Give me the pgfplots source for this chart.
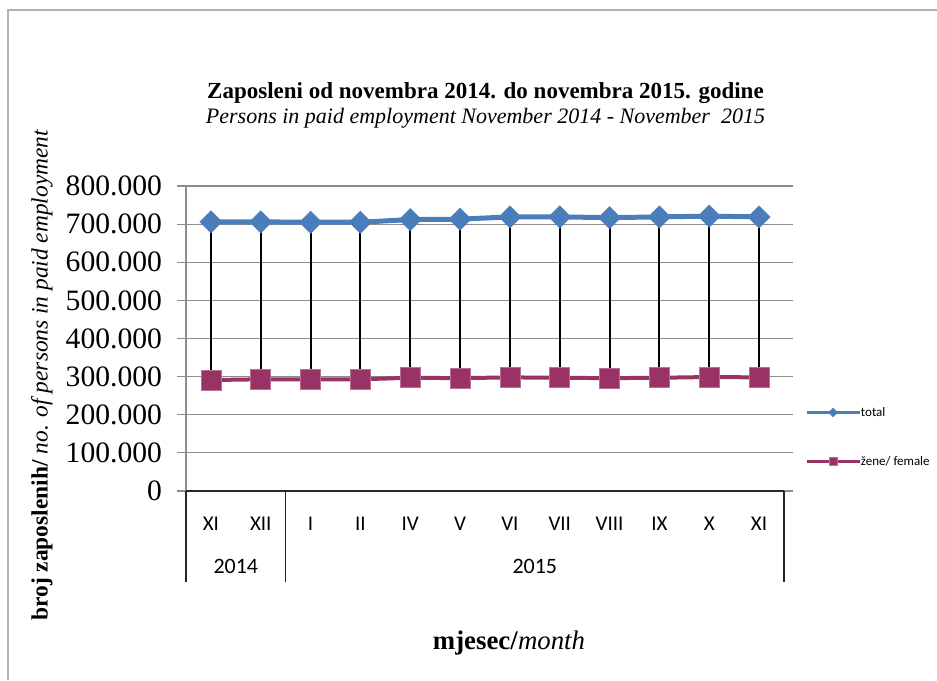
\documentclass[border=0pt]{standalone}
\usepackage{fontspec}
\setmainfont{Liberation Serif}
\newfontfamily\calibri{Carlito}
\usepackage{pgfplots}
\pgfplotsset{compat=1.18}
\usepackage{pgfplotstable}
\definecolor{cblue}{HTML}{4A7EBB}
\definecolor{cplum}{HTML}{993366}
\definecolor{cgrid}{HTML}{8C8C8C}

\pgfplotstableread{
x t f
0 706000 291000
1 706000 293000
2 705000 293000
3 705000 293000
4 712000 297000
5 713000 296000
6 719000 298000
7 719000 297000
8 717000 296000
9 719000 297000
10 721000 299000
11 719000 298000
}\data

\begin{document}
\begin{tikzpicture}[x=1pt,y=1pt]
\useasboundingbox (0,0) rectangle (468.5,340);
\draw[gray!60, line width=0.8pt] (4,0) -- (4,335) -- (468.5,335);
\node[font=\bfseries\fontsize{11.5}{13}\selectfont] at (242.75,293.5) {Zaposleni od novembra 2014. do novembra 2015. godine};
\node[font=\itshape\fontsize{11}{13}\selectfont] at (242.75,281) {Persons in paid employment November 2014 - November\ \ 2015};
\node[rotate=90, font=\fontsize{11.7}{14}\selectfont] at (21,152.5) {\textbf{broj zaposlenih/} \textit{no. of persons in paid employment}};
\node[font=\fontsize{13.4}{15}\selectfont] at (254.5,18.5) {\textbf{mjesec/}\textit{month}};
\begin{axis}[
  at={(93pt,94.5pt)}, anchor=south west,
  scale only axis, width=299pt, height=152.5pt,
  xmin=-0.5, xmax=11.5, ymin=0, ymax=800000,
  scaled y ticks=false,
  ytick={0,100000,200000,300000,400000,500000,600000,700000,800000},
  yticklabels={0,100.000,200.000,300.000,400.000,500.000,600.000,700.000,800.000},
  xtick={0,1,2,3,4,5,6,7,8,9,10,11},
  xticklabels={XI,XII,I,II,IV,V,VI,VII,VIII,IX,X,XI},
  ymajorgrids, grid style={cgrid, line width=0.6pt},
  axis line style={draw=none},
  tick align=outside, major tick length=4.5pt,
  ytick style={cgrid, line width=0.6pt},
  xtick style={draw=none},
  xticklabel style={font=\calibri\fontsize{10.5}{12}\selectfont, anchor=center, yshift=-12pt},
  yticklabel style={font=\fontsize{14.8}{16}\selectfont, anchor=east, xshift=-4pt},
  clip=false,
  legend style={at={(1.035,0.280)}, anchor=north west, draw=none, fill=none, inner sep=0pt,
    row sep=18pt, font=\calibri\fontsize{6.5}{7}\selectfont,
    nodes={inner sep=0pt, text height=5pt, text depth=1.5pt},
    /tikz/every even column/.append style={column sep=2.5pt}},
  legend cell align=left,
]
\draw[cgrid, line width=0.6pt] (axis cs:-0.5,0) -- (axis cs:-0.5,800000);
\draw[black!85, line width=0.6pt] (axis cs:-0.5,0) -- (axis cs:11.5,0);
\draw[black!85, line width=0.6pt] (axis cs:-0.5,0) -- ([yshift=-45.5pt]axis cs:-0.5,0);
\draw[black!85, line width=0.6pt] (axis cs:1.5,0) -- ([yshift=-45.5pt]axis cs:1.5,0);
\draw[black!85, line width=0.6pt] (axis cs:11.5,0) -- ([yshift=-45.5pt]axis cs:11.5,0);
\node[font=\calibri\fontsize{11}{13}\selectfont] at ([yshift=-37.5pt]axis cs:0.5,0) {2014};
\node[font=\calibri\fontsize{11}{13}\selectfont] at ([yshift=-37.5pt]axis cs:6.5,0) {2015};

\addplot[cblue, line width=2.5pt, mark=square*, mark size=3.9pt, mark options={rotate=45, solid, fill=cblue, draw=cblue, line width=0.3pt},
  legend image code/.code={\draw[cblue, line width=1.3pt] (0pt,0pt) -- (26.5pt,0pt);
     \draw[cblue, fill=cblue, line width=0.2pt, mark=square*, mark size=1.6pt, mark options={rotate=45}] plot coordinates {(13.25pt,0pt)};}]
  table[x=x, y=t] {\data};
\addlegendentry{total}
\addplot[cplum, line width=2pt, mark=square*, mark size=5pt, mark options={solid, fill=cplum, draw=cplum!70, line width=0.3pt},
  legend image code/.code={\draw[cplum, line width=1.3pt] (0pt,0pt) -- (26.5pt,0pt);
     \draw[cplum, fill=cplum, line width=0.2pt, mark=square*, mark size=2pt] plot coordinates {(13.25pt,0pt)};}]
  table[x=x, y=f] {\data};
\addlegendentry{žene/ female}
\addplot[draw=none, mark=none, forget plot,
  error bars/.cd, y dir=minus, y explicit, error mark=none,
  error bar style={draw=black, solid, line width=1pt}]
  table[x=x, y=t, y error expr=\thisrow{t}-\thisrow{f}] {\data};
\end{axis}
\end{tikzpicture}
\end{document}
